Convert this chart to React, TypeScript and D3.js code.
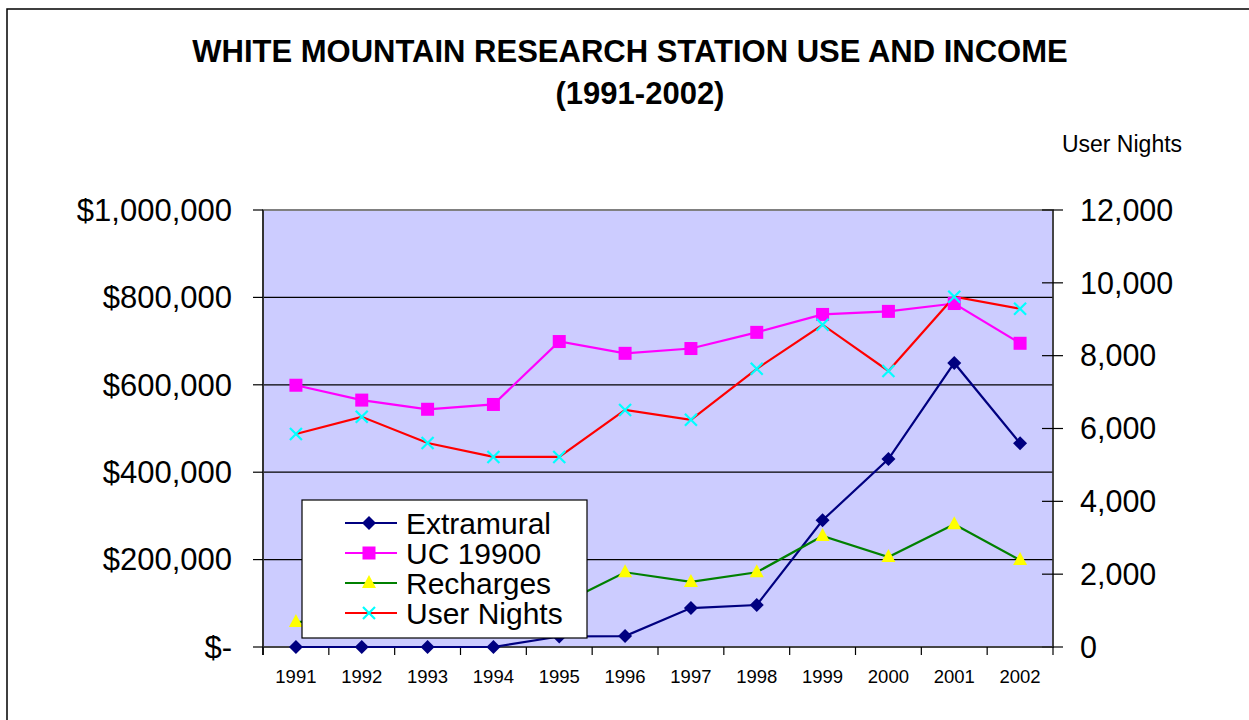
import { useEffect, useRef } from "react";
import * as d3 from "d3";

const YEARS = ["1991", "1992", "1993", "1994", "1995", "1996", "1997", "1998", "1999", "2000", "2001", "2002"];

// dollars, left axis
const EXTRAMURAL = [0, 0, 0, 0, 24000, 25000, 89000, 96000, 290000, 430000, 650000, 466000];
const UC_19900 = [599000, 565000, 544000, 555000, 699000, 672000, 683000, 720000, 761000, 768000, 786000, 695000];
const RECHARGES = [57000, 65000, 75000, 85000, 96000, 171000, 149000, 171000, 254000, 206000, 281000, 199000];
// nights, right axis
const USER_NIGHTS = [5850, 6320, 5600, 5220, 5220, 6510, 6240, 7640, 8850, 7580, 9620, 9290];

const LEFT_TICKS = [0, 200000, 400000, 600000, 800000, 1000000];
const RIGHT_TICKS = [0, 2000, 4000, 6000, 8000, 10000, 12000];

const FONT = "Arial, 'Liberation Sans', sans-serif";

export default function App() {
  const svgRef = useRef<SVGSVGElement>(null);

  useEffect(() => {
    if (!svgRef.current) return;
    const svg = d3.select(svgRef.current);
    svg.selectAll("*").remove();

    const plot = { left: 263, right: 1053, top: 210, bottom: 647 };

    // outer chart frame
    svg.append("rect")
      .attr("x", 7).attr("y", 9)
      .attr("width", 1400).attr("height", 900)
      .attr("fill", "white").attr("stroke", "black").attr("stroke-width", 1.5);

    // title
    const title = svg.append("text")
      .attr("text-anchor", "middle")
      .attr("font-family", FONT)
      .attr("font-weight", "bold")
      .attr("font-size", 31);
    title.append("tspan").attr("x", 630).attr("y", 62).text("WHITE MOUNTAIN RESEARCH STATION USE AND INCOME");
    title.append("tspan").attr("x", 640).attr("y", 104).text("(1991-2002)");

    svg.append("text")
      .attr("x", 1122).attr("y", 152)
      .attr("text-anchor", "middle")
      .attr("font-family", FONT).attr("font-size", 23)
      .text("User Nights");

    // scales
    const x = d3.scaleBand<string>().domain(YEARS).range([plot.left, plot.right]);
    const cx = (d: string) => (x(d) as number) + x.bandwidth() / 2;
    const yL = d3.scaleLinear().domain([0, 1000000]).range([plot.bottom, plot.top]);
    const yR = d3.scaleLinear().domain([0, 12000]).range([plot.bottom, plot.top]);

    // plot area
    svg.append("rect")
      .attr("x", plot.left).attr("y", plot.top)
      .attr("width", plot.right - plot.left).attr("height", plot.bottom - plot.top)
      .attr("fill", "#CCCCFF").attr("stroke", "#808080").attr("stroke-width", 2);

    // gridlines
    svg.append("g").selectAll("line")
      .data(LEFT_TICKS.slice(1, -1))
      .enter().append("line")
      .attr("x1", plot.left).attr("x2", plot.right)
      .attr("y1", d => yL(d)).attr("y2", d => yL(d))
      .attr("stroke", "black").attr("stroke-width", 1.2);

    // left axis
    const fmtDollar = (d: number) => (d === 0 ? "$-" : "$" + d3.format(",")(d));
    svg.append("line")
      .attr("x1", plot.left).attr("x2", plot.left)
      .attr("y1", plot.top).attr("y2", plot.bottom + 8)
      .attr("stroke", "#333").attr("stroke-width", 2);
    const gl = svg.append("g");
    gl.selectAll("line").data(LEFT_TICKS).enter().append("line")
      .attr("x1", plot.left - 10).attr("x2", plot.left)
      .attr("y1", d => yL(d)).attr("y2", d => yL(d))
      .attr("stroke", "black").attr("stroke-width", 1.2);
    gl.selectAll("text").data(LEFT_TICKS).enter().append("text")
      .attr("x", 232).attr("y", d => yL(d))
      .attr("dy", "0.35em")
      .attr("text-anchor", "end")
      .attr("font-family", FONT).attr("font-size", 31)
      .text(d => fmtDollar(d));

    // right axis
    svg.append("line")
      .attr("x1", plot.right).attr("x2", plot.right)
      .attr("y1", plot.top).attr("y2", plot.bottom)
      .attr("stroke", "#333").attr("stroke-width", 1.5);
    const gr = svg.append("g");
    gr.selectAll("line").data(RIGHT_TICKS).enter().append("line")
      .attr("x1", plot.right - 11).attr("x2", plot.right + 10)
      .attr("y1", d => yR(d)).attr("y2", d => yR(d))
      .attr("stroke", "black").attr("stroke-width", 1.2);
    gr.selectAll("text").data(RIGHT_TICKS).enter().append("text")
      .attr("x", 1080).attr("y", d => yR(d))
      .attr("dy", "0.35em")
      .attr("font-family", FONT).attr("font-size", 30.5)
      .text(d => d3.format(",")(d));

    // bottom axis
    svg.append("line")
      .attr("x1", plot.left).attr("x2", plot.right)
      .attr("y1", plot.bottom).attr("y2", plot.bottom)
      .attr("stroke", "#333").attr("stroke-width", 1.5);
    const bounds = YEARS.map(d => x(d) as number).concat([plot.right]);
    svg.append("g").selectAll("line").data(bounds).enter().append("line")
      .attr("x1", d => d).attr("x2", d => d)
      .attr("y1", plot.bottom).attr("y2", plot.bottom + 8)
      .attr("stroke", "black").attr("stroke-width", 1.2);
    svg.append("g").selectAll("text").data(YEARS).enter().append("text")
      .attr("x", d => cx(d)).attr("y", 683)
      .attr("text-anchor", "middle")
      .attr("font-family", FONT).attr("font-size", 18.5)
      .text(d => d);

    // series
    const series = [
      { name: "Extramural", values: EXTRAMURAL, y: yL, line: "#000080", marker: "diamond", fill: "#000080" },
      { name: "UC 19900", values: UC_19900, y: yL, line: "#FF00FF", marker: "square", fill: "#FF00FF" },
      { name: "Recharges", values: RECHARGES, y: yL, line: "#008000", marker: "triangle", fill: "#FFFF00" },
      { name: "User Nights", values: USER_NIGHTS, y: yR, line: "#FF0000", marker: "x", fill: "#00FFFF" },
    ];

    const drawMarker = (g: d3.Selection<SVGGElement, unknown, null, undefined>, kind: string, color: string, px: number, py: number) => {
      if (kind === "diamond") {
        g.append("path").attr("d", `M${px},${py - 7}L${px + 7},${py}L${px},${py + 7}L${px - 7},${py}Z`).attr("fill", color);
      } else if (kind === "square") {
        g.append("rect").attr("x", px - 6.5).attr("y", py - 6.5).attr("width", 13).attr("height", 13).attr("fill", color);
      } else if (kind === "triangle") {
        g.append("path").attr("d", `M${px},${py - 8}L${px + 7},${py + 5}L${px - 7},${py + 5}Z`).attr("fill", color);
      } else {
        g.append("path").attr("d", `M${px - 6},${py - 6}L${px + 6},${py + 6}M${px + 6},${py - 6}L${px - 6},${py + 6}`)
          .attr("stroke", color).attr("stroke-width", 2.2).attr("fill", "none");
      }
    };

    series.forEach(s => {
      const line = d3.line<number>().x((_, i) => cx(YEARS[i])).y(v => s.y(v));
      svg.append("path")
        .datum(s.values)
        .attr("fill", "none")
        .attr("stroke", s.line)
        .attr("stroke-width", 2.2)
        .attr("d", line);
    });
    series.forEach(s => {
      const g = svg.append("g");
      s.values.forEach((v, i) => drawMarker(g as any, s.marker, s.fill, cx(YEARS[i]), s.y(v)));
    });

    // legend
    const lg = svg.append("g");
    lg.append("rect")
      .attr("x", 302).attr("y", 500).attr("width", 285).attr("height", 138)
      .attr("fill", "white").attr("stroke", "black").attr("stroke-width", 1.2);
    series.forEach((s, i) => {
      const ly = 523 + i * 30;
      lg.append("line").attr("x1", 345).attr("x2", 397).attr("y1", ly).attr("y2", ly)
        .attr("stroke", s.line).attr("stroke-width", 2.2);
      drawMarker(lg as any, s.marker, s.fill, 369, ly);
      lg.append("text").attr("x", 406).attr("y", ly).attr("dy", "0.35em")
        .attr("font-family", FONT).attr("font-size", 30)
        .text(s.name);
    });
  }, []);

  return (
    <svg
      ref={svgRef}
      width={1249}
      height={720}
      style={{ position: "absolute", left: 0, top: 0, display: "block", background: "white" }}
    />
  );
}
